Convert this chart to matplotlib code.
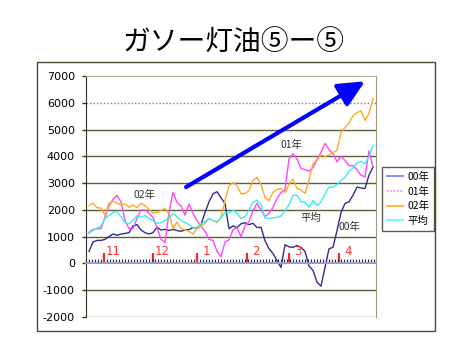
import matplotlib
matplotlib.use("Agg")
import matplotlib.pyplot as plt
from matplotlib.patches import Rectangle
from matplotlib.lines import Line2D
from matplotlib.ticker import FixedLocator, MultipleLocator
import matplotlib.transforms as mtransforms
import numpy as np

plt.rcParams['font.family'] = ['DejaVu Sans', 'Noto Sans CJK JP']

# ---- data ----
title = "ガソー灯油⑤ー⑤"
series_labels = ["00年", "01年", "02年", "平均"]
month_labels = ["11", "12", "1", "2", "3", "4"]
month_starts = [3.75, 16, 27, 39.5, 50, 62.5]   # position in the daily index
y_ticks = [7000, 6000, 5000, 4000, 3000, 2000, 1000, 0, -1000, -2000]
target_level = 6000

y00 = [450, 800, 860, 860, 900, 1000, 1100, 1050, 1100, 1120,
       1150, 1400, 1450, 1250, 1150, 1100, 1150, 1350, 1250, 1270,
       1230, 1270, 1230, 1200, 1250, 1260, 1340, 1330, 1450, 1900,
       2300, 2600, 2680, 2450, 2240, 1300, 1400, 1340, 1480, 1520,
       1450, 1500, 1340, 1350, 850, 550, 370, 110, -150, 700,
       620, 600, 670, 600, 450, -100, -260, -700, -850, -150,
       550, 600, 1230, 1900, 2240, 2300, 2550, 2850, 2820, 2800,
       3300, 3600]
y01 = [1160, 1270, 1290, 1300, 1720, 2150, 2400, 2540, 2300, 1600,
       1300, 1300, 1680, 2000, 2000, 1880, 1720, 1340, 900, 780,
       1900, 2650, 2280, 2150, 1800, 2220, 1870, 1600, 1400, 1200,
       900, 860, 450, 250, 800, 880, 1250, 1340, 1000, 1400,
       1550, 1980, 2240, 2000, 1750, 1870, 2090, 2430, 2650, 2750,
       3900, 4100, 3900, 3550, 3500, 3450, 3580, 3880, 4150, 4480,
       4250, 4100, 3800, 4000, 3850, 3650, 3650, 3500, 3300, 3230,
       4200, 3600]
y02 = [2160, 2250, 2080, 2070, 1790, 2250, 2330, 2250, 2180, 2220,
       2100, 2180, 2080, 2250, 2160, 2020, 1880, 1900, 1980, 2050,
       1850, 1300, 1550, 1300, 1250, 1200, 1100, 1300, 1380, 1500,
       1680, 1600, 1530, 1700, 2350, 2900, 3020, 2910, 2600, 2610,
       2720, 3100, 3210, 2950, 2460, 2350, 2650, 2760, 2800, 2650,
       2950, 3150, 2800, 2750, 2610, 3100, 3730, 3840, 4050, 4000,
       4050, 4140, 4220, 4900, 5070, 5250, 5520, 5630, 5700, 5340,
       5600, 6150]
yavg = [1120, 1230, 1320, 1400, 1680, 1800, 1900, 1950, 1740, 1530,
        1480, 1600, 1780, 1720, 1790, 1680, 1600, 1500, 1530, 1600,
        1730, 1850, 1740, 1600, 1530, 1450, 1340, 1320, 1480, 1560,
        1680, 1600, 1560, 1700, 1900, 1880, 1980, 1870, 1680, 1750,
        2000, 2280, 2350, 2200, 1700, 1680, 1700, 1720, 1770, 1980,
        2200, 2540, 2550, 2300, 2280, 2100, 2350, 2160, 2300, 2600,
        2850, 2850, 2950, 3100, 3210, 3450, 3560, 3750, 3800, 3730,
        4000, 4400]

W, H = 465, 351
fig = plt.figure(figsize=(W / 100, H / 100), dpi=100)
fig.patch.set_facecolor("white")

# outer frame
fig.add_artist(Rectangle((37 / W, 1 - 331 / H), (435 - 37) / W, (331 - 62) / H,
                         transform=fig.transFigure, fill=False,
                         ec="#4a4a30", lw=1.0))

fig.text(234 / W, 1 - 43 / H, title, ha="center", va="center",
         fontsize=20, family=["Noto Sans CJK JP", "DejaVu Sans"], color="black")

ax = fig.add_axes([86 / W, 1 - 317 / H, 290 / W, 241 / H])
ax.set_facecolor("white")

n = len(y00)
x = np.arange(n)
ax.set_xlim(-0.75, n - 0.25)
ax.set_ylim(min(y_ticks), max(y_ticks))

# gridlines
for v in y_ticks:
    if v == target_level:
        ax.axhline(v, color="#7777cc", lw=1.0, ls=(0, (1, 1.5)), zorder=1)
    elif v in (max(y_ticks), min(y_ticks), 0):
        continue
    else:
        ax.axhline(v, color="#5e5e38", lw=1.0, zorder=1)
ax.axhline(min(y_ticks), color="#9a9a80", lw=1.0, zorder=1)

colors = ["#2e2e90", "#ff44ff", "#ffaa22", "#33f0f0"]
ax.plot(x, y00, color=colors[0], lw=1.0, zorder=3)
ax.plot(x, y01, color=colors[1], lw=1.0, zorder=3)
ax.plot(x, y02, color=colors[2], lw=1.0, zorder=3)
ax.plot(x, yavg, color=colors[3], lw=1.0, zorder=3)

# spines
ax.spines["left"].set_color("#333322")
ax.spines["top"].set_color("#b0b098")
ax.spines["right"].set_color("#9a9a80")
ax.spines["bottom"].set_position(("data", 0))
ax.spines["bottom"].set_color("#9a9ad0")
ax.spines["bottom"].set_linewidth(1.5)
ax.spines["bottom"].set_zorder(4)

ax.yaxis.set_major_locator(FixedLocator(y_ticks))
ax.set_yticklabels([str(v) for v in y_ticks])
ax.tick_params(axis="y", direction="out", length=3, width=1, color="#333322",
               labelsize=8, pad=5, labelcolor="black")

ax.xaxis.set_major_locator(FixedLocator(month_starts))
ax.xaxis.set_minor_locator(MultipleLocator(0.75))
ax.tick_params(axis="x", which="major", direction="in", length=7, width=1.6,
               color="#ff2222", labelbottom=False)
ax.tick_params(axis="x", which="minor", direction="in", length=3, width=0.8,
               color="#222222")

trans = mtransforms.blended_transform_factory(ax.transData, ax.transAxes)
for m, lab in zip(month_starts, month_labels):
    ax.text(m + 2.3, 0.27, lab, transform=trans, ha="center", va="center",
            fontsize=8.5, color="#ff3333", zorder=5)

# series labels in the plot
lab_kw = dict(transform=ax.transAxes, ha="center", va="center", fontsize=7.5,
              color="#333333", family=["Noto Sans CJK JP", "DejaVu Sans"], zorder=5)
ax.text(0.200, 0.506, "02年", **lab_kw)
ax.text(0.710, 0.714, "01年", **lab_kw)
ax.text(0.776, 0.411, "平均", **lab_kw)
ax.text(0.907, 0.373, "00年", **lab_kw)

# big arrow
ax.annotate("", xy=(0.962, 0.978), xytext=(0.345, 0.539),
            xycoords="axes fraction", textcoords="axes fraction",
            arrowprops=dict(arrowstyle="-|>,head_length=0.8,head_width=0.38",
                            color="#0000ff", lw=3.0, mutation_scale=20,
                            shrinkA=0, shrinkB=0), zorder=6)

# legend
handles = [Line2D([], [], color="#7777ff", lw=1.2),
           Line2D([], [], color="#ff77ff", lw=1.2, ls=(0, (1, 1))),
           Line2D([], [], color="#ffaa22", lw=1.2),
           Line2D([], [], color="#55ffff", lw=1.2)]
leg = ax.legend(handles, series_labels, loc="upper left",
                bbox_to_anchor=(382 / W, 1 - 167 / H), bbox_transform=fig.transFigure,
                frameon=True, fancybox=False, handlelength=1.6,
                handletextpad=0.4, labelspacing=0.45, borderpad=0.45,
                borderaxespad=0, prop={"family": ["Noto Sans CJK JP", "DejaVu Sans"], "size": 7.5})
leg.get_frame().set_edgecolor("#333322")
leg.get_frame().set_linewidth(1.0)
leg.set_zorder(7)

fig.savefig("out.png", dpi=100, facecolor="white")
